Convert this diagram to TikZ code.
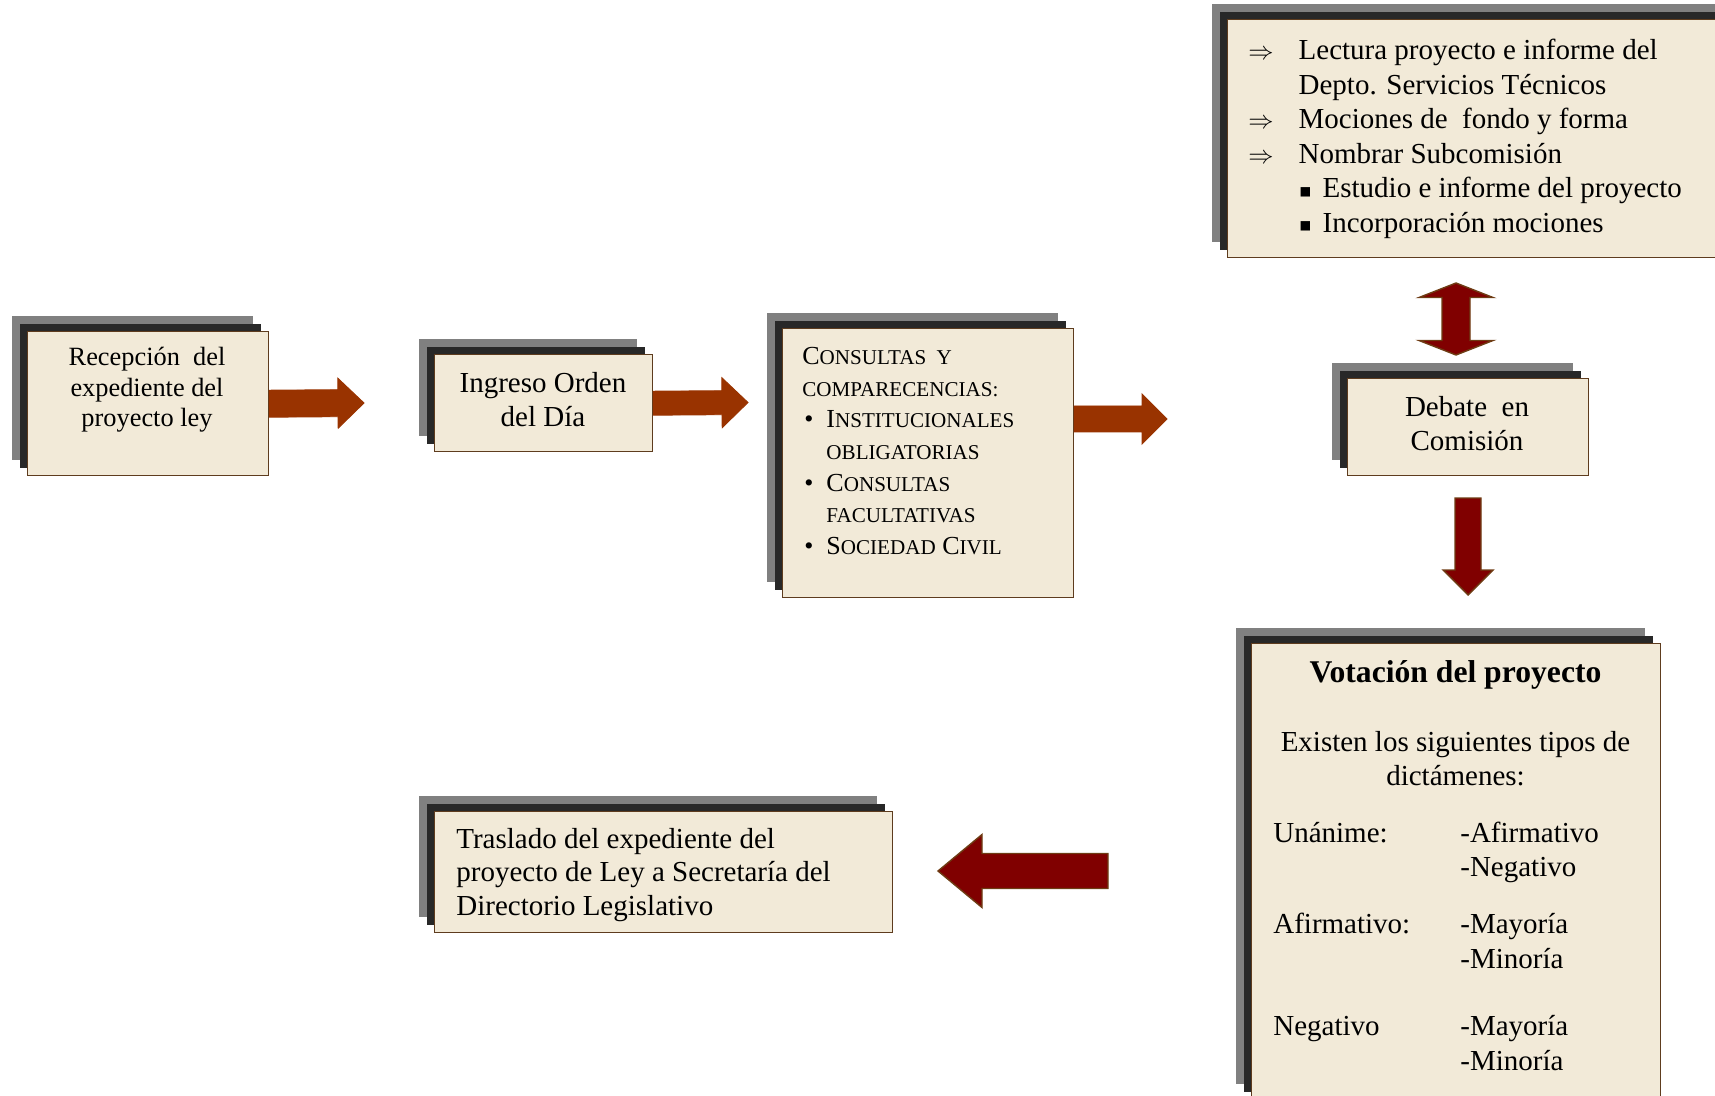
\documentclass[tikz,border=0pt]{standalone}
\usepackage{fontspec}
\setmainfont{Liberation Serif}
\newfontfamily\simbolos{DejaVu Sans}
\usetikzlibrary{calc,positioning,shadows}

\definecolor{pergamino}{RGB}{242,234,216}
\definecolor{borde}{RGB}{94,60,30}
\definecolor{sombragris}{RGB}{128,128,128}
\definecolor{sombranegra}{RGB}{40,40,40}
\definecolor{naranja}{RGB}{153,51,0}
\definecolor{granate}{RGB}{128,0,0}
\definecolor{bordegranate}{RGB}{110,60,20}

\newcommand{\versalita}[1]{{\fontsize{12}{13}\selectfont\MakeUppercase{#1}}}

% estilo, desde, hasta, medio ancho cuerpo, medio ancho punta, largo punta
\newcommand{\flecha}[6]{%
  \coordinate (fb) at ($(#3)!#6!(#2)$);
  \draw[#1] ($(#2)!#4!90:(#3)$) -- ($(fb)!#4!90:(#3)$) -- ($(fb)!#5!90:(#3)$) -- (#3)
    -- ($(fb)!#5!-90:(#3)$) -- ($(fb)!#4!-90:(#3)$) -- ($(#2)!#4!-90:(#3)$) -- cycle;}
\newcommand{\flechadoble}[6]{%
  \coordinate (fa) at ($(#2)!#6!(#3)$);
  \coordinate (fb) at ($(#3)!#6!(#2)$);
  \draw[#1] (#2) -- ($(fa)!#5!90:(#3)$) -- ($(fa)!#4!90:(#3)$) -- ($(fb)!#4!-90:(#2)$)
    -- ($(fb)!#5!-90:(#2)$) -- (#3) -- ($(fb)!#5!90:(#2)$) -- ($(fb)!#4!90:(#2)$)
    -- ($(fa)!#4!-90:(#3)$) -- ($(fa)!#5!-90:(#3)$) -- cycle;}

\begin{document}
\begin{tikzpicture}[x=1cm,y=-1cm,
  caja/.style={draw=borde,fill=pergamino,line width=0.8pt,inner sep=0pt,anchor=north west,
    general shadow={fill=sombragris,draw=none,shadow xshift=-0.32cm,shadow yshift=0.32cm},
    general shadow={fill=sombranegra,draw=none,shadow xshift=-0.16cm,shadow yshift=0.16cm}},
  texto/.style={inner sep=0pt,font=\fontsize{16.5}{19.4}\selectfont},
  naranjo/.style={fill=naranja,draw=naranja,line width=0.5pt},
  rojo/.style={fill=granate,draw=bordegranate,line width=0.8pt}]
  \useasboundingbox (0,0) rectangle (34.3,21.92);
  \clip (0,0) rectangle (34.3,21.92);

  \node[caja,minimum width=4.82cm,minimum height=2.88cm] (recep) at (0.54,6.62) {};
  \node[caja,minimum width=4.36cm,minimum height=1.94cm] (ingreso) at (8.68,7.08) {};
  \node[caja,minimum width=5.82cm,minimum height=5.38cm] (consultas) at (15.64,6.56) {};
  \node[caja,minimum width=10.3cm,minimum height=4.76cm] (lectura) at (24.54,0.38) {};
  \node[caja,minimum width=4.82cm,minimum height=1.94cm] (debate) at (26.94,7.56) {};
  \node[caja,minimum width=8.18cm,minimum height=9.12cm] (votacion) at (25.02,12.86) {};
  \node[caja,minimum width=9.16cm,minimum height=2.42cm] (traslado) at (8.68,16.22) {};

  \node[texto,font=\fontsize{15}{17.4}\selectfont,align=center] (recep-t) at (2.94,7.8)
    {Recepción\ \ del\\expediente del\\proyecto ley};
  \node[texto,align=center] (ingreso-t) at (10.86,8.0) {Ingreso Orden\\del Día};
  \node[texto,font=\fontsize{14.8}{18}\selectfont,anchor=base west] (consultas-t) at (16.04,7.29)
    {\begin{tabular}[t]{@{\hspace{0.04cm}}l@{\hspace{0.26cm}}l@{}}
      \multicolumn{2}{@{}l@{}}{C\versalita{onsultas\ \ y}}\\
      \multicolumn{2}{@{}l@{}}{\versalita{comparecencias:}}\\
      \textbullet & I\versalita{nstitucionales}\\
       & \versalita{obligatorias}\\
      \textbullet & C\versalita{onsultas}\\
       & \versalita{facultativas}\\
      \textbullet & S\versalita{ociedad} C\versalita{ivil}
    \end{tabular}};
  \node[texto,font=\fontsize{16.5}{19.6}\selectfont,anchor=base west] (lectura-t) at (24.96,1.2)
    {\begin{tabular}[t]{@{}l@{\hspace{0.5cm}}l@{}}
      {\fontsize{14}{15}\selectfont$\Rightarrow$} & Lectura proyecto e informe del\\
       & Depto. Servicios Técnicos\\
      {\fontsize{14}{15}\selectfont$\Rightarrow$} & Mociones de\ \ fondo y forma\\
      {\fontsize{14}{15}\selectfont$\Rightarrow$} & Nombrar Subcomisión\\
       & \makebox[0.48cm][l]{\hspace{0.02cm}\raisebox{1.5pt}{\simbolos\fontsize{7}{8}\selectfont ■}}Estudio e informe del proyecto\\
       & \makebox[0.48cm][l]{\hspace{0.02cm}\raisebox{1.5pt}{\simbolos\fontsize{7}{8}\selectfont ■}}Incorporación mociones
    \end{tabular}};
  \node[texto,align=center] (debate-t) at (29.34,8.48) {Debate\ \ en\\Comisión};
  \node[texto,font=\bfseries\fontsize{18}{21}\selectfont] (votacion-tit) at (29.11,13.5) {Votación del proyecto};
  \node[texto,align=center] (votacion-tipos) at (29.11,15.18) {Existen los siguientes tipos de\\dictámenes:};
  \node[texto,font=\fontsize{16.5}{19.9}\selectfont,anchor=base west] (votacion-tabla) at (25.46,16.84)
    {\begin{tabular}[t]{@{}p{3.74cm}@{}l@{}}
      Unánime: & -Afirmativo\\
       & -Negativo\\[0.44cm]
      Afirmativo: & -Mayoría\\
       & -Minoría\\[0.64cm]
      Negativo & -Mayoría\\
       & -Minoría
    \end{tabular}};
  \node[texto,font=\fontsize{16.5}{19.1}\selectfont,align=left,anchor=west] (traslado-t) at (9.12,17.5)
    {Traslado del expediente del\\proyecto de Ley a Secretaría del\\Directorio Legislativo};

  \coordinate (f1) at (7.28,8.06);
  \coordinate (f2) at (14.96,8.05);
  \coordinate (f3a) at ($(consultas.north east)+(0,1.82)$);
  \coordinate (f3) at (23.34,8.38);
  \coordinate (d1) at (29.12,5.66);
  \coordinate (d2) at (29.12,7.10);
  \coordinate (b1) at (29.36,9.96);
  \coordinate (b2) at (29.36,11.9);
  \coordinate (i1) at (22.16,17.42);
  \coordinate (i2) at (18.76,17.42);
  \flecha{naranjo}{recep.east}{f1}{0.27cm}{0.5cm}{0.52cm}
  \flecha{naranjo}{ingreso.east}{f2}{0.24cm}{0.5cm}{0.52cm}
  \flecha{naranjo}{f3a}{f3}{0.26cm}{0.5cm}{0.5cm}
  \flechadoble{rojo}{d1}{d2}{0.28cm}{0.74cm}{0.29cm}
  \flecha{rojo}{b1}{b2}{0.26cm}{0.5cm}{0.5cm}
  \flecha{rojo}{i1}{i2}{0.35cm}{0.73cm}{0.88cm}
\end{tikzpicture}
\end{document}
